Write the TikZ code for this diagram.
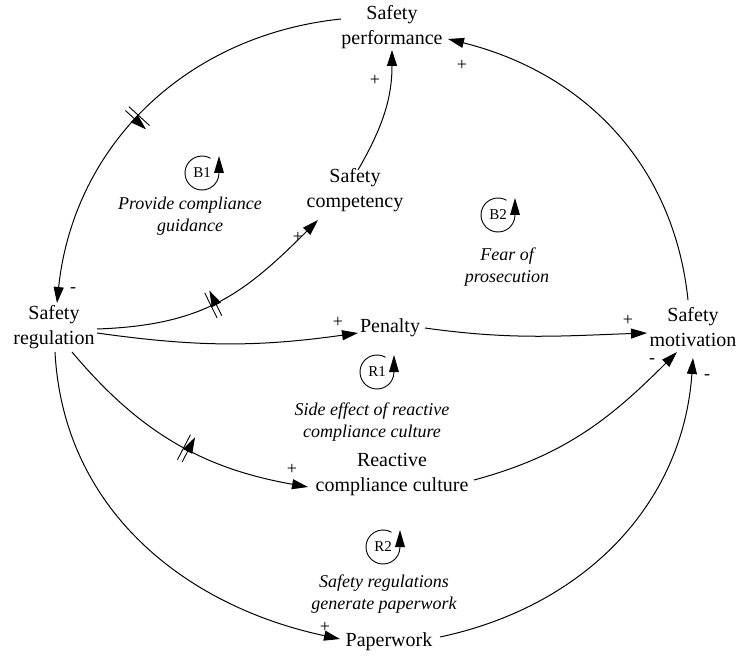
\documentclass[tikz,border=0pt]{standalone}
\usepackage{fontspec}
\setmainfont{Liberation Serif}
\newfontfamily\diagfont{Liberation Serif}
\usetikzlibrary{arrows.meta,decorations.markings,calc}

\tikzset{
  var/.style={align=center, inner sep=0pt, font=\diagfont\fontsize{20}{25}\selectfont},
  looplabel/.style={align=center, inner sep=0pt, font=\diagfont\fontsize{18}{22}\selectfont\itshape},
  loopid/.style={inner sep=0pt, font=\diagfont\fontsize{15}{17}\selectfont},
  pol/.style={inner sep=0pt, font=\diagfont\fontsize{18}{20}\selectfont},
  link/.style={line width=1pt, -{Triangle[length=16pt,width=10pt]}},
  delay/.style={postaction={decorate, decoration={markings,
      mark=at position #1 with {\draw[line width=0.9pt]
        (-2.6pt,-14pt) -- (-2.6pt,14pt) (2.6pt,-14pt) -- (2.6pt,14pt);}}}},
}

% loop marker: circle open at the top right, arrowhead pointing up
\newcommand{\loopmark}[2]{%
  \node[loopid] (#1) at #2 {#1};
  \draw[line width=0.9pt] ($(#1)+(60:17)$) arc[start angle=60, end angle=360, radius=17];
  \fill ($(#1)+(12,0)$) -- ($(#1)+(22,0)$) -- ($(#1)+(17,17)$) -- cycle;
}

\begin{document}
\begin{tikzpicture}[x=1pt, y=1pt]
\useasboundingbox (0,0) rectangle (741,657);

% variables
\node[var] (perf) at (392,630) {Safety\\performance};
\node[var] (reg)  at (54,330)  {Safety\\regulation};
\node[var] (comp) at (355,467) {Safety\\competency};
\node[var] (pen)  at (390,329) {Penalty};
\node[var] (mot)  at (693,330) {Safety\\motivation};
\node[var] (rcc)  at (392,182) {Reactive\\compliance culture};
\node[var] (pap)  at (389,15)  {Paperwork};

% outer ring
\draw[link, delay=0.53] ([shift={(-51,8)}]perf.center) to[out=186, in=84] ([shift={(3,24)}]reg.center);
\draw[link] ([shift={(-5,27)}]mot.center) to[out=96, in=-14] ([shift={(56,-12)}]perf.center);
\draw[link] ([shift={(1,-25)}]reg.center) to[out=273, in=168] ([shift={(-49,3)}]pap.center);
\draw[link] ([shift={(51,5)}]pap.center) to[out=12, in=266] ([shift={(0,-31)}]mot.center);

% inner links
\draw[link, delay=0.47] ([shift={(43,-2)}]reg.center) to[out=2, in=225, looseness=1.1] ([shift={(-37,-30)}]comp.center);
\draw[link] ([shift={(3,20)}]comp.center) to[out=60, in=270] ([shift={(0,-23)}]perf.center);
\draw[link] ([shift={(43,-6)}]reg.center) to[out=-8, in=188] ([shift={(-32,-5)}]pen.center);
\draw[link] ([shift={(35,0)}]pen.center) to[out=-8, in=182] ([shift={(-46,-6)}]mot.center);
\draw[link, delay=0.54] ([shift={(18,-25)}]reg.center) to[out=-50, in=170] ([shift={(-84,-12)}]rcc.center);
\draw[link] ([shift={(82,-5)}]rcc.center) to[out=15, in=225] ([shift={(-16,-25)}]mot.center);

% polarities
\node[pol] (s1)  at (73,367)  {-};
\node[pol] (s2)  at (462,592) {+};
\node[pol] (s3)  at (375,577) {+};
\node[pol] (s4)  at (298,420) {+};
\node[pol] (s5)  at (338,335) {+};
\node[pol] (s6)  at (628,337) {+};
\node[pol] (s7)  at (652,296) {-};
\node[pol] (s8)  at (707,280) {-};
\node[pol] (s9)  at (292,188) {+};
\node[pol] (s10) at (325,30)  {+};

% feedback loops
\loopmark{B1}{(202,484)}
\loopmark{B2}{(498,442)}
\loopmark{R1}{(377,285)}
\loopmark{R2}{(383,110)}

\node[looplabel] (l1) at (190,441) {Provide compliance\\guidance};
\node[looplabel] (l2) at (507,390) {Fear of\\prosecution};
\node[looplabel] (l3) at (372,235) {Side effect of reactive\\compliance culture};
\node[looplabel] (l4) at (384,63)  {Safety regulations\\generate paperwork};
\end{tikzpicture}
\end{document}
